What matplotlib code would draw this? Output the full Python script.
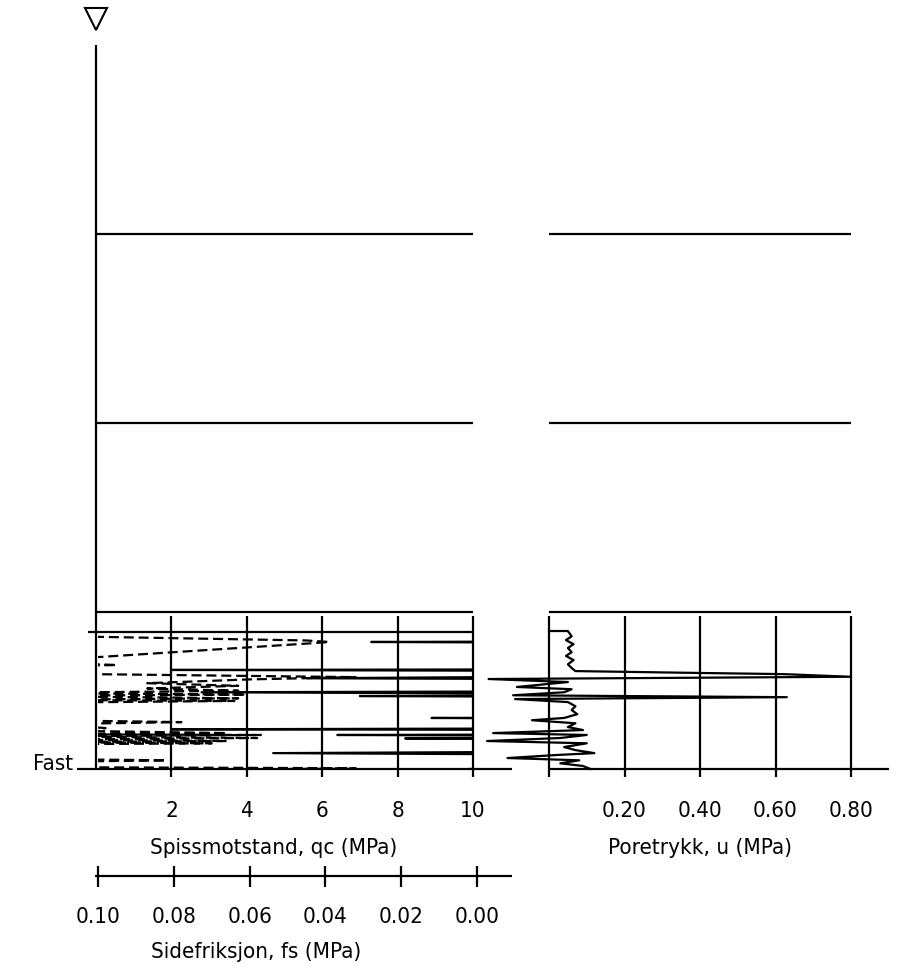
import matplotlib
matplotlib.use("Agg")
import matplotlib.pyplot as plt
import matplotlib.transforms as mtransforms

plt.rcParams['font.family'] = ['DejaVu Sans']
plt.rcParams['font.stretch'] = 'condensed'

# ---- data (depth in m, values in MPa) ----
layer_depths = [5.0, 10.0, 15.0]
start_depth = 15.53
bottom_depth = 19.15
grid_top = 15.1

qc_ticks = [2, 4, 6, 8, 10]
qc_labels = ['2', '4', '6', '8', '10']
u_ticks = [0.0, 0.2, 0.4, 0.6, 0.8]
u_labels = ['', '0.20', '0.40', '0.60', '0.80']
fs_ticks = [0.10, 0.08, 0.06, 0.04, 0.02, 0.00]
fs_labels = ['0.10', '0.08', '0.06', '0.04', '0.02', '0.00']

# cone resistance qc (values above 10 are off scale)
qc_depth = [15.53, 15.77, 15.79, 15.82, 16.51, 16.53, 16.56, 16.69, 16.75, 16.78,
            17.09, 17.12, 17.17, 17.20, 17.22, 17.25, 17.78, 17.80, 17.83, 18.07,
            18.10, 18.12, 18.23, 18.25, 18.28, 18.32, 18.34, 18.36, 18.68, 18.73,
            18.78, 19.12, 19.15]
qc_val = [15, 15, 7.3, 15, 15, 2.0, 15, 15, 5.6, 15,
          15, 2.8, 15, 15, 7.0, 15, 15, 8.9, 15, 15,
          2.0, 15, 15, 6.4, 15, 15, 8.2, 15, 15, 4.7,
          15, 15, 9.9]

# sleeve friction fs (values above 0.10 are off scale)
fs_depth = [15.55, 15.62, 15.75, 15.79, 15.82, 16.19, 16.30, 16.40, 16.45, 16.62,
            16.72, 16.78, 16.88, 16.95, 17.02, 17.08, 17.14, 17.18, 17.22, 17.28,
            17.32, 17.35, 17.40, 17.85, 17.91, 17.96, 18.07, 18.12, 18.20, 18.23,
            18.25, 18.29, 18.33, 18.37, 18.41, 18.44, 18.47, 18.50, 18.88, 18.92,
            18.97, 19.10, 19.13, 19.15]
fs_val = [0.12, 0.12, 0.045, 0.039, 0.043, 0.10, 0.12, 0.095, 0.12, 0.12,
          0.032, 0.060, 0.087, 0.063, 0.087, 0.063, 0.12, 0.061, 0.12, 0.063,
          0.12, 0.064, 0.12, 0.12, 0.078, 0.11, 0.098, 0.12, 0.066, 0.12,
          0.057, 0.12, 0.058, 0.12, 0.066, 0.12, 0.070, 0.12, 0.12, 0.082,
          0.12, 0.12, 0.032, 0.05]

# pore pressure u
u_depth = [15.50, 15.50, 15.64, 15.74, 15.85, 15.95, 16.06, 16.16, 16.27, 16.38,
           16.48, 16.56, 16.61, 16.64, 16.71, 16.77, 16.85, 16.98, 17.04, 17.12,
           17.20, 17.25, 17.30, 17.38, 17.49, 17.59, 17.70, 17.80, 17.86, 17.94,
           18.04, 18.12, 18.20, 18.25, 18.33, 18.41, 18.47, 18.57, 18.65, 18.73,
           18.78, 18.86, 18.92, 19.00, 19.07, 19.15]
u_val = [0.0, 0.05, 0.06, 0.045, 0.065, 0.05, 0.06, 0.045, 0.065, 0.05,
         0.06, 0.07, 0.40, 0.62, 0.80, -0.16, 0.05, -0.085, 0.06, 0.04,
         -0.095, 0.63, -0.09, 0.05, 0.07, 0.06, 0.075, 0.04, -0.045, 0.07,
         0.05, 0.09, -0.148, 0.10, 0.03, -0.164, 0.10, 0.04, 0.07, 0.12,
         0.02, -0.11, 0.08, 0.03, 0.09, 0.11]

W, H = 913, 971
LW = 1.6
FS = 16
fig = plt.figure(figsize=(W / 100, H / 100), dpi=100)


def rect(x0, x1, ytop, ybot):
    return [x0 / W, 1 - ybot / H, (x1 - x0) / W, (ybot - ytop) / H]


# y in pixels from top of the figure
pix = mtransforms.Affine2D().scale(1 / W, -1 / H).translate(0, 1) + fig.transFigure

ax_q = fig.add_axes(rect(96, 473, 45, 769))
ax_fs = fig.add_axes(rect(98, 477, 45, 769))
ax_u = fig.add_axes(rect(549, 851, 45, 769))
ax_fss = fig.add_axes(rect(98, 477, 870, 880))
for a in (ax_q, ax_fs, ax_u):
    a.set_ylim(bottom_depth, 0)
    a.axis('off')
ax_fss.axis('off')
ax_q.set_xlim(0, 10)
ax_fs.set_xlim(0.10, 0.0)
ax_fss.set_xlim(0.10, 0.0)
ax_u.set_xlim(0, 0.8)

k = dict(color='black', lw=LW, clip_on=False, solid_capstyle='butt')

# ---- left panel: qc / fs ----
ax_q.plot([0, 0], [0, bottom_depth], **k)
for d in layer_depths:
    ax_q.plot([0, 10], [d, d], **k)
ax_q.plot([-0.21, 10], [start_depth, start_depth], **k)
for q in qc_ticks:
    ax_q.plot([q, q], [grid_top, bottom_depth], **k)
ax_q.plot([-0.5, 11.03], [bottom_depth, bottom_depth], **k)
tq = mtransforms.blended_transform_factory(ax_q.transData, pix)
for q, lab in zip(qc_ticks, qc_labels):
    ax_q.plot([q, q], [769, 777], transform=tq, **k)
    ax_q.text(q, 817, lab, transform=tq, ha='center', va='baseline', fontsize=FS)
ax_q.plot(qc_val, qc_depth, color='black', lw=LW, clip_on=True)
ax_fs.plot(fs_val, fs_depth, color='black', lw=LW, ls=(0, (4.5, 2.2)), clip_on=True)

ax_q.plot([0], [-0.69], marker='v', ms=16, mfc='white', mec='black', mew=1.5, clip_on=False)

fig.text(73 / W, 1 - 770 / H, 'Fast', ha='right', va='baseline', fontsize=FS)
fig.text(274 / W, 1 - 854 / H, 'Spissmotstand, qc (MPa)', ha='center', va='baseline', fontsize=FS)

# ---- fs scale ----
tf = mtransforms.blended_transform_factory(ax_fss.transData, pix)
ax_fss.plot([0.1008, -0.0092], [876, 876], transform=tf, **k)
for f, lab in zip(fs_ticks, fs_labels):
    ax_fss.plot([f, f], [866, 887], transform=tf, **k)
    ax_fss.text(f, 923, lab, transform=tf, ha='center', va='baseline', fontsize=FS)
fig.text(256 / W, 1 - 958 / H, 'Sidefriksjon, fs (MPa)', ha='center', va='baseline', fontsize=FS)

# ---- right panel: u ----
for d in layer_depths:
    ax_u.plot([0, 0.8], [d, d], **k)
for u in u_ticks:
    ax_u.plot([u, u], [grid_top, bottom_depth], **k)
ax_u.plot([0, 0.9007], [bottom_depth, bottom_depth], **k)
tu = mtransforms.blended_transform_factory(ax_u.transData, pix)
for u, lab in zip(u_ticks, u_labels):
    ax_u.plot([u, u], [769, 777], transform=tu, **k)
    ax_u.text(u, 817, lab, transform=tu, ha='center', va='baseline', fontsize=FS)
ax_u.plot(u_val, u_depth, color='black', lw=LW, clip_on=False)
fig.text(700 / W, 1 - 854 / H, 'Poretrykk, u (MPa)', ha='center', va='baseline', fontsize=FS)

fig.savefig('out.png', dpi=100)
